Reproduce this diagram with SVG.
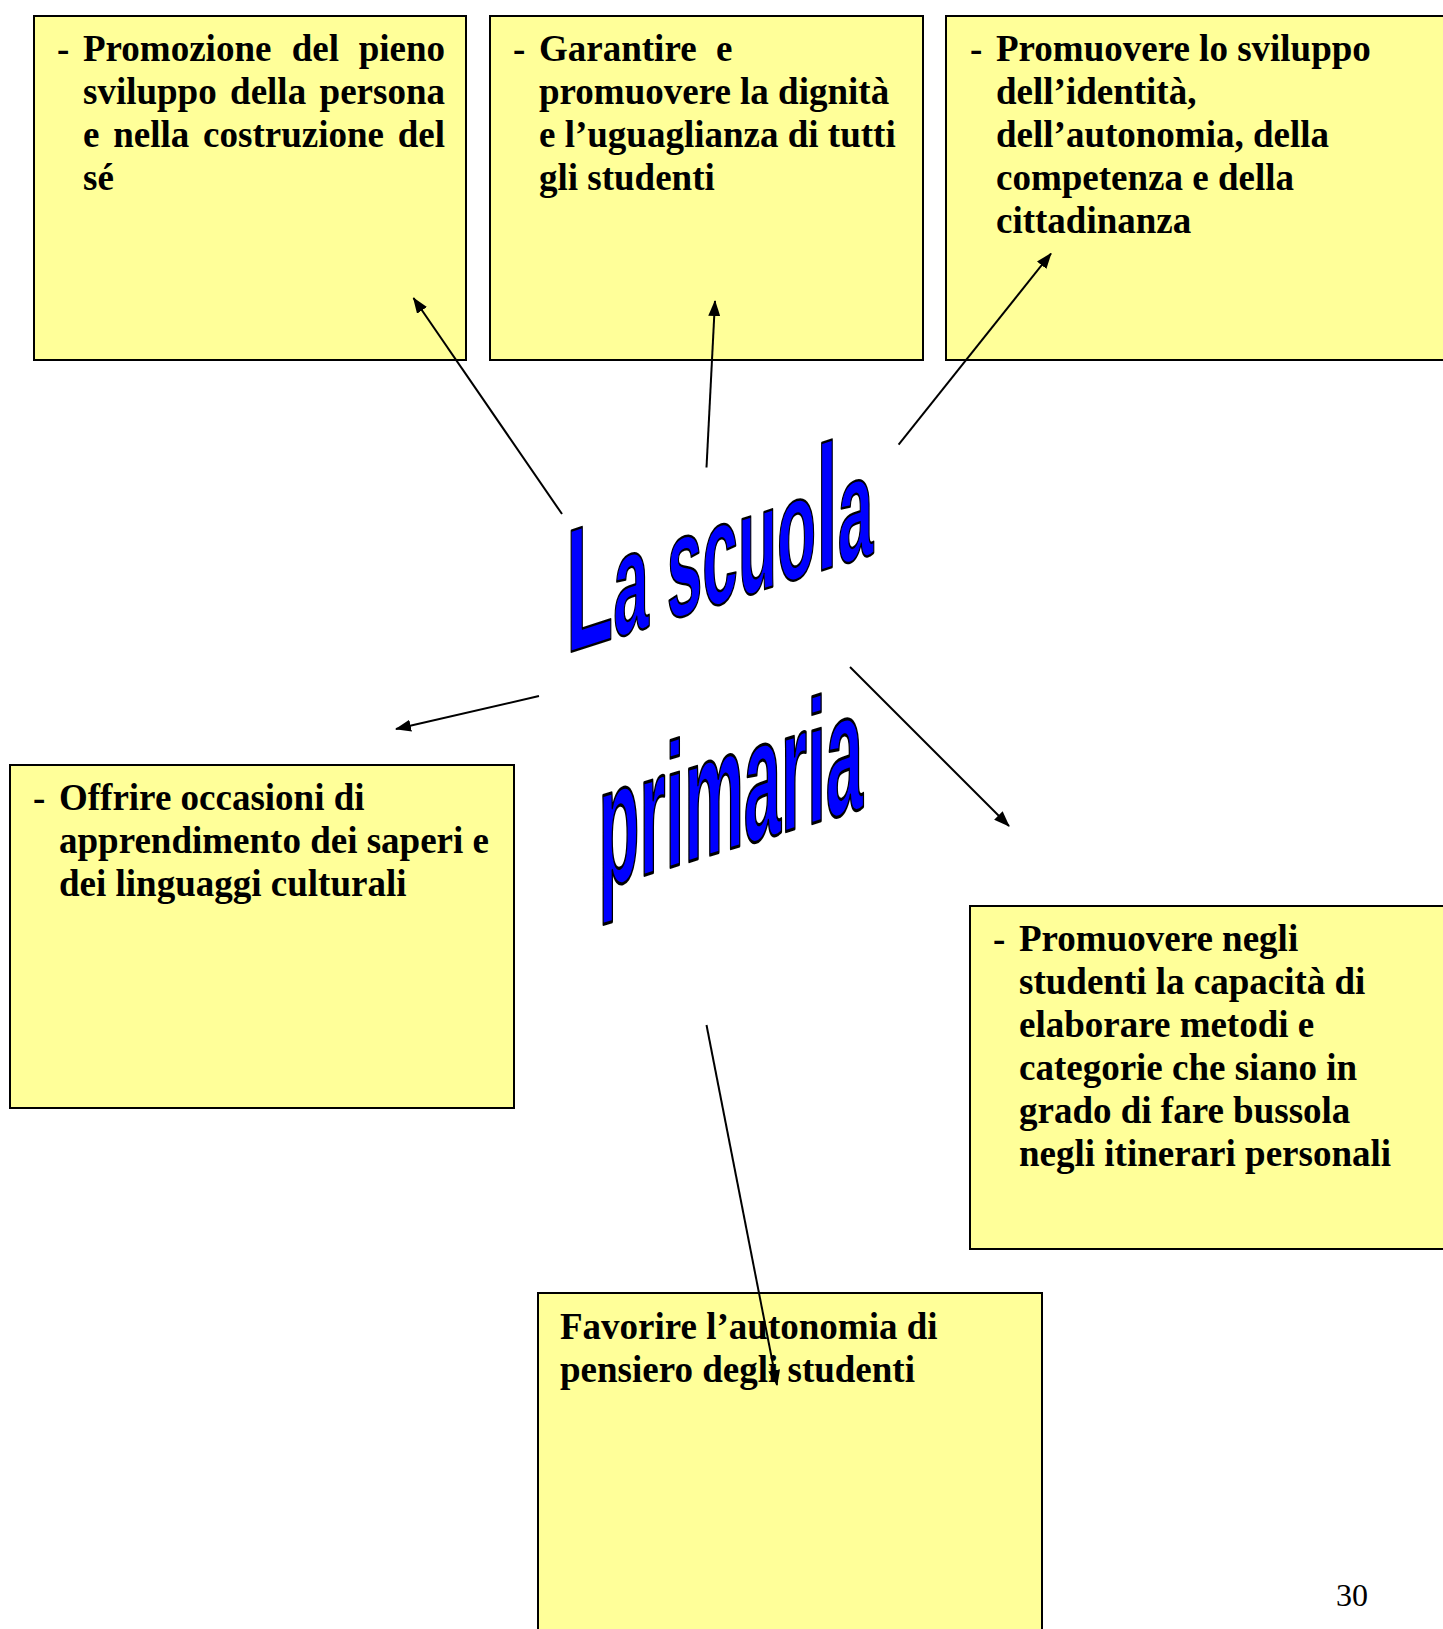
<svg xmlns="http://www.w3.org/2000/svg" width="1443" height="1629" viewBox="0 0 1443 1629">
<defs>
<style>
.box{fill:#FFFF99;stroke:#000;stroke-width:2}
.t{font-family:"Liberation Serif","Times New Roman",serif;font-weight:bold;font-size:37px;fill:#000}
.wa{font-family:"Liberation Sans",Arial,sans-serif;font-weight:bold;fill:#0000FF;stroke:#000;stroke-width:2.5;vector-effect:non-scaling-stroke;stroke-linejoin:round}
.pg{font-family:"Liberation Serif","Times New Roman",serif;font-size:32px;fill:#000}
.c{stroke:#000;stroke-width:2;fill:none;marker-end:url(#ah)}
</style>
<marker id="ah" markerWidth="16" markerHeight="12" refX="15" refY="6" orient="auto" markerUnits="userSpaceOnUse">
<path d="M0,0 L16,6 L0,12 Z" fill="#000"/>
</marker>
</defs>
<rect width="1443" height="1629" fill="#fff"/>

<g id="n1">
<rect class="box" x="34" y="16" width="432" height="344"/>
<text class="t" y="61"><tspan x="57">-</tspan><tspan x="83">Promozione</tspan><tspan x="291.7">del</tspan><tspan x="358.7">pieno</tspan></text>
<text class="t" y="104"><tspan x="83">sviluppo</tspan><tspan x="230.1">della</tspan><tspan x="319.6">persona</tspan></text>
<text class="t" y="147"><tspan x="83">e</tspan><tspan x="113.2">nella</tspan><tspan x="203.1">costruzione</tspan><tspan x="397.7">del</tspan></text>
<text class="t" y="190"><tspan x="83">sé</tspan></text>
</g>

<g id="n2">
<rect class="box" x="490" y="16" width="433" height="344"/>
<text class="t" y="61"><tspan x="513">-</tspan><tspan x="539">Garantire</tspan><tspan x="716">e</tspan></text>
<text class="t" x="539" y="104">promuovere la dignità</text>
<text class="t" x="539" y="147">e l’uguaglianza di tutti</text>
<text class="t" x="539" y="190">gli studenti</text>
</g>

<g id="n3">
<rect class="box" x="946" y="16" width="520" height="344"/>
<text class="t" y="61"><tspan x="970">-</tspan><tspan x="996">Promuovere lo sviluppo</tspan></text>
<text class="t" x="996" y="104">dell’identità,</text>
<text class="t" x="996" y="147">dell’autonomia, della</text>
<text class="t" x="996" y="190">competenza e della</text>
<text class="t" x="996" y="233">cittadinanza</text>
</g>

<g id="n4">
<rect class="box" x="10" y="765" width="504" height="343"/>
<text class="t" y="810"><tspan x="33">-</tspan><tspan x="59">Offrire occasioni di</tspan></text>
<text class="t" x="59" y="853">apprendimento dei saperi e</text>
<text class="t" x="59" y="896">dei linguaggi culturali</text>
</g>

<g id="n5">
<rect class="box" x="970" y="906" width="500" height="343"/>
<text class="t" y="951"><tspan x="993">-</tspan><tspan x="1019">Promuovere negli</tspan></text>
<text class="t" x="1019" y="994">studenti la capacità di</text>
<text class="t" x="1019" y="1037">elaborare metodi e</text>
<text class="t" x="1019" y="1080">categorie che siano in</text>
<text class="t" x="1019" y="1123">grado di fare bussola</text>
<text class="t" x="1019" y="1166">negli itinerari personali</text>
</g>

<g id="n6">
<rect class="box" x="538" y="1293" width="504" height="360"/>
<text class="t" x="560" y="1339">Favorire l’autonomia di</text>
<text class="t" x="560" y="1382">pensiero degli studenti</text>
</g>

<g id="center">
<text class="wa" transform="translate(566,653.5) skewY(-18) scale(0.439,1)"><tspan font-size="176">L</tspan><tspan font-size="146">a scuo</tspan><tspan font-size="176">l</tspan><tspan font-size="146">a</tspan></text>
<text class="wa" font-size="175" transform="translate(598.6,889.5) skewY(-17.2) scale(0.383,1)">primaria</text>
</g>

<g id="connectors">
<line class="c" x1="562" y1="514" x2="413.5" y2="298"/>
<line class="c" x1="706.5" y1="467.5" x2="715" y2="301"/>
<line class="c" x1="898.6" y1="444.6" x2="1051" y2="253.5"/>
<line class="c" x1="539" y1="696" x2="396" y2="729"/>
<line class="c" x1="850" y1="667" x2="1009" y2="826"/>
<line class="c" x1="706.5" y1="1025" x2="777" y2="1385"/>
</g>

<text class="pg" x="1352" y="1606" text-anchor="middle">30</text>
</svg>
